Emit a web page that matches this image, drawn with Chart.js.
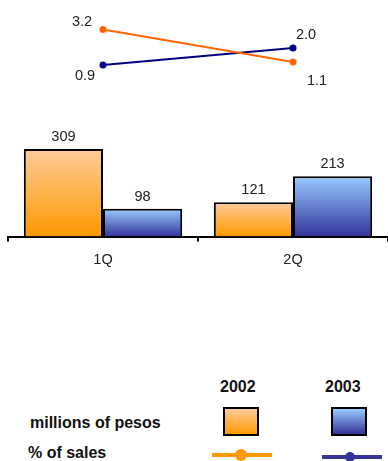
<!DOCTYPE html>
<html>
<head>
<meta charset="utf-8">
<script src="https://cdn.jsdelivr.net/npm/chart.js@4.4.1/dist/chart.umd.min.js"></script>
<style>
  html, body { margin: 0; padding: 0; background: #fff; overflow: hidden; width: 388px; height: 461px; }
  #wrap { position: relative; width: 388px; height: 461px; overflow: hidden; }
  canvas { position: absolute; left: 0; top: 0; }
  .lg { position: absolute; font-family: "Liberation Sans", Arial, sans-serif; font-weight: bold; font-size: 16px; color: #111; white-space: nowrap; line-height: 18px; }
  .sw { position: absolute; box-sizing: border-box; border: 2px solid #000; }
  .ln { position: absolute; height: 4px; }
  .dot { position: absolute; border-radius: 50%; }
</style>
</head>
<body>
<div id="wrap">
  <canvas id="c" width="392" height="285"></canvas>
  <div class="lg" style="left:220px; top:378px;">2002</div>
  <div class="lg" style="left:325px; top:378px;">2003</div>
  <div class="lg" style="left:30px; top:414px;">millions of pesos</div>
  <div class="lg" style="left:28px; top:444px;">% of sales</div>
  <div class="sw" style="left:223px; top:407px; width:36px; height:29px; background:linear-gradient(#FFCC99,#FF9900);"></div>
  <div class="sw" style="left:331px; top:407px; width:36px; height:29px; background:linear-gradient(#99CCFF,#333399);"></div>
  <div class="ln" style="left:212px; top:453px; width:60px; background:#FF9900;"></div>
  <div class="dot" style="left:235px; top:449px; width:12px; height:12px; background:#FF9900;"></div>
  <div class="ln" style="left:322px; top:455px; width:60px; background:#333399;"></div>
  <div class="dot" style="left:345px; top:452px; width:10px; height:10px; background:#333399;"></div>
</div>
<script>
const categories = ['1Q', '2Q'];
const seriesNames = ['2002', '2003'];
const pesos2002 = [309, 121];
const pesos2003 = [98, 213];
const pctSales2002 = [3.2, 1.1];
const pctSales2003 = [0.9, 2.0];

function barGradient(ctx, light, dark) {
  const chart = ctx.chart;
  if (!chart.chartArea || ctx.type !== 'data') return dark;
  const ys = chart.scales.y;
  const top = ys.getPixelForValue(ctx.raw);
  const base = ys.getPixelForValue(0);
  if (!isFinite(top) || !isFinite(base) || top === base) return dark;
  const g = chart.ctx.createLinearGradient(0, top, 0, base);
  g.addColorStop(0, light);
  g.addColorStop(1, dark);
  return g;
}

// label offsets per line point (style only)
const lineLabelOffsets = {
  0: [[-21, -8], [24, 19]],
  1: [[-18, 11], [13, -13]]
};

const labelPlugin = {
  id: 'valueLabels',
  afterDatasetsDraw(chart) {
    const c = chart.ctx;
    c.save();
    c.font = '14.5px "Liberation Sans", Arial, sans-serif';
    c.fillStyle = '#222';
    c.textAlign = 'center';
    c.textBaseline = 'middle';
    chart.data.datasets.forEach((ds, di) => {
      const meta = chart.getDatasetMeta(di);
      meta.data.forEach((el, i) => {
        const v = ds.data[i];
        if (ds.type === 'line') {
          const off = lineLabelOffsets[di][i];
          c.fillText(v.toFixed(1), el.x + off[0], el.y + off[1]);
        } else {
          c.fillText(String(v), el.x, el.y - 12);
        }
      });
    });
    c.restore();
  }
};

new Chart(document.getElementById('c'), {
  type: 'bar',
  data: {
    labels: categories,
    datasets: [
      { type: 'line', label: seriesNames[0], data: pctSales2002, yAxisID: 'y2',
        borderColor: '#FF6600', backgroundColor: '#FF6600', borderWidth: 2,
        pointRadius: 3.5, pointBorderWidth: 0, pointBackgroundColor: '#FF6600', order: 0, clip: false },
      { type: 'line', label: seriesNames[1], data: pctSales2003, yAxisID: 'y2',
        borderColor: '#000080', backgroundColor: '#000080', borderWidth: 2,
        pointRadius: 3.5, pointBorderWidth: 0, pointBackgroundColor: '#000080', order: 0, clip: false },
      { type: 'bar', label: seriesNames[0], data: pesos2002, yAxisID: 'y',
        backgroundColor: (ctx) => barGradient(ctx, '#FFCC99', '#FF9900'),
        borderColor: '#000', borderWidth: 2, borderSkipped: 'bottom', order: 1,
        categoryPercentage: 0.8333, barPercentage: 1.0 },
      { type: 'bar', label: seriesNames[1], data: pesos2003, yAxisID: 'y',
        backgroundColor: (ctx) => barGradient(ctx, '#99CCFF', '#333399'),
        borderColor: '#000', borderWidth: 2, borderSkipped: 'bottom', order: 1,
        categoryPercentage: 0.8333, barPercentage: 1.0 }
    ]
  },
  options: {
    responsive: false,
    animation: false,
    devicePixelRatio: 1,
    layout: { padding: { left: 8, right: 0, top: 0, bottom: 6 } },
    plugins: { legend: { display: false }, tooltip: { enabled: false } },
    scales: {
      x: {
        offset: true,
        grid: { display: true, drawOnChartArea: false, drawTicks: true, tickLength: 5, color: '#000', lineWidth: 2, offset: true },
        border: { display: true, color: '#000', width: 2 },
        ticks: { color: '#222', font: { family: '"Liberation Sans", Arial, sans-serif', size: 14.5 }, padding: 10 }
      },
      y: { display: false, min: 0, max: 821 },
      y2: { display: false, min: -10.24, max: 4.86 }
    }
  },
  plugins: [labelPlugin]
});
</script>
</body>
</html>
